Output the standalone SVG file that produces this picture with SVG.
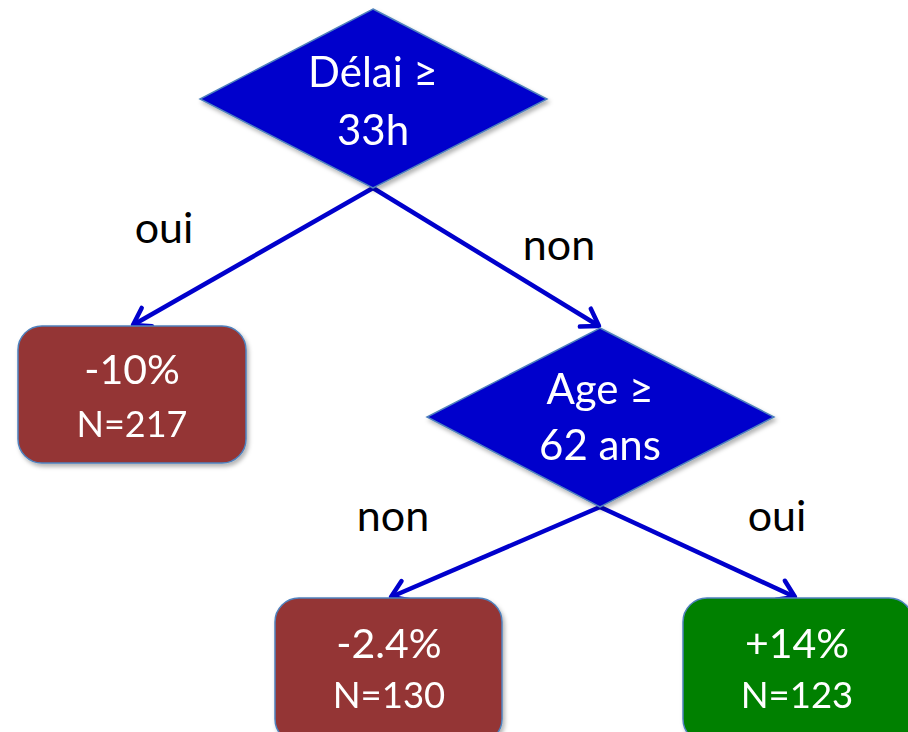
<svg xmlns="http://www.w3.org/2000/svg" width="908" height="732" viewBox="0 0 908 732">
<style>
.dia{fill:#0000CC;stroke:#4F81BD;stroke-width:1.5}
.box{stroke:#4F81BD;stroke-width:1.5}
.red{fill:#943634}
.green{fill:#008000}
.wt{fill:#FFFFFF;font-family:Lato,"Open Sans",sans-serif;text-anchor:middle}
.lbl{fill:#000000;font-family:Lato,"Open Sans",sans-serif;font-size:43px;text-anchor:middle}
.con{stroke:#0000CC;stroke-width:4.5;fill:none;marker-end:url(#ah)}
</style>
<defs>
<filter id="sh" x="-10%" y="-10%" width="130%" height="130%">
<feDropShadow dx="2" dy="3" stdDeviation="2" flood-color="#000" flood-opacity="0.3"/>
</filter>
<marker id="ah" markerUnits="userSpaceOnUse" markerWidth="34" markerHeight="34" refX="22" refY="12" orient="auto" viewBox="0 0 34 24">
<path d="M6,1.5 L22,12 L6,22.5" fill="none" stroke="#0000CC" stroke-width="4.5" stroke-linecap="round" stroke-linejoin="round"/>
</marker>
</defs>
<g id="connectors">
<line class="con" x1="373" y1="188" x2="133" y2="325"/>
<line class="con" x1="373" y1="188" x2="599" y2="326"/>
<line class="con" x1="600" y1="507" x2="391" y2="597"/>
<line class="con" x1="600" y1="507" x2="795" y2="597"/>
</g>
<g id="labels">
<text class="lbl" x="164" y="243">oui</text>
<text class="lbl" x="559" y="260">non</text>
<text class="lbl" x="393" y="531">non</text>
<text class="lbl" x="777" y="531">oui</text>
</g>
<g id="node-delai" filter="url(#sh)">
<polygon class="dia" points="373,9 547,99 373,188 200,99"/>
<text class="wt" x="373" y="87" font-size="42">Délai ≥</text>
<text class="wt" x="373" y="145" font-size="42">33h</text>
</g>
<g id="node-age" filter="url(#sh)">
<polygon class="dia" points="600,328 774,417 600,507 427,417"/>
<text class="wt" x="600" y="404" font-size="42">Age ≥</text>
<text class="wt" x="600" y="460" font-size="42">62 ans</text>
</g>
<g id="node-217" filter="url(#sh)">
<rect class="box red" x="18" y="326" width="228" height="137" rx="24"/>
<text class="wt" x="132" y="384" font-size="41">-10%</text>
<text class="wt" x="132" y="437" font-size="36">N=217</text>
</g>
<g id="node-130" filter="url(#sh)">
<rect class="box red" x="275" y="598" width="227" height="145" rx="24"/>
<text class="wt" x="389" y="658" font-size="41">-2.4%</text>
<text class="wt" x="389" y="708" font-size="36.5">N=130</text>
</g>
<g id="node-123" filter="url(#sh)">
<rect class="box green" x="683" y="598" width="230" height="145" rx="24"/>
<text class="wt" x="797" y="658" font-size="41">+14%</text>
<text class="wt" x="797" y="708" font-size="36.5">N=123</text>
</g>
</svg>
